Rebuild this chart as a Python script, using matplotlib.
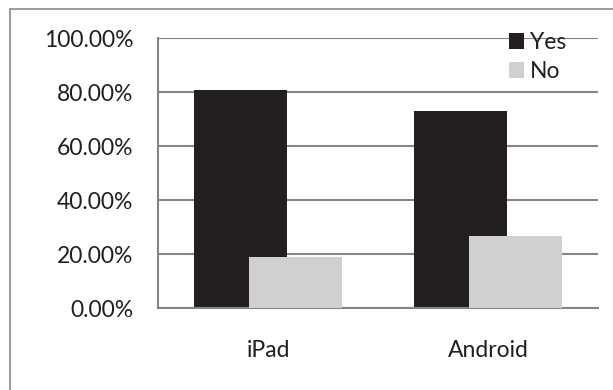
import matplotlib
matplotlib.use("Agg")
import matplotlib.pyplot as plt
from matplotlib.patches import Rectangle
from matplotlib.ticker import FuncFormatter
import numpy as np

# values (percent)
categories = ["iPad", "Android"]
yes_values = [80.9, 73.1]
no_values = [19.1, 26.9]
series_names = ["Yes", "No"]

plt.rcParams['font.family'] = ['Lato', 'DejaVu Sans']

fig = plt.figure(figsize=(6.13, 3.9), dpi=100)
ax = fig.add_axes([0.2582, 0.2095, 0.7173, 0.6923])

x = np.arange(len(categories))
width = 0.423
offset = 0.126
ax.bar(x - offset, yes_values, width, color='#231f20', label=series_names[0], zorder=2)
ax.bar(x + offset, no_values, width, color='#cfd0cf', label=series_names[1], zorder=3)

ax.set_xlim(-0.5, 1.5)
ax.set_ylim(0, 100)
ax.set_yticks(np.arange(0, 101, 20))
ax.yaxis.set_major_formatter(FuncFormatter(lambda v, p: f"{v:.2f}%"))
ax.set_xticks(x)
ax.set_xticklabels(categories)
ax.tick_params(axis='both', length=0, labelsize=16.5, colors='#231f20')
ax.tick_params(axis='y', pad=18)
ax.tick_params(axis='x', pad=23)

# horizontal gridlines
ax.grid(axis='y', color='#858585', linewidth=1.5)
ax.set_axisbelow(True)
for side in ['top', 'right']:
    ax.spines[side].set_visible(False)
for side in ['left', 'bottom']:
    ax.spines[side].set_color('#858585')
    ax.spines[side].set_linewidth(1.5)

leg = ax.legend(loc='upper left', bbox_to_anchor=(509 / 613, 1 - 32 / 390),
                bbox_transform=fig.transFigure, frameon=False, fontsize=16.5,
                handlelength=0.65, handleheight=0.65, handletextpad=0.25,
                labelspacing=0.35, borderpad=0, borderaxespad=0)
for t in leg.get_texts():
    t.set_color('#231f20')

# outer chart border
fig.patches.append(Rectangle((10 / 613, -0.1), 1.0, 1 - 9 / 390 + 0.1,
                             transform=fig.transFigure, fill=False,
                             edgecolor='#8c8c8c', linewidth=1.2))

fig.savefig("out.png", dpi=100)
